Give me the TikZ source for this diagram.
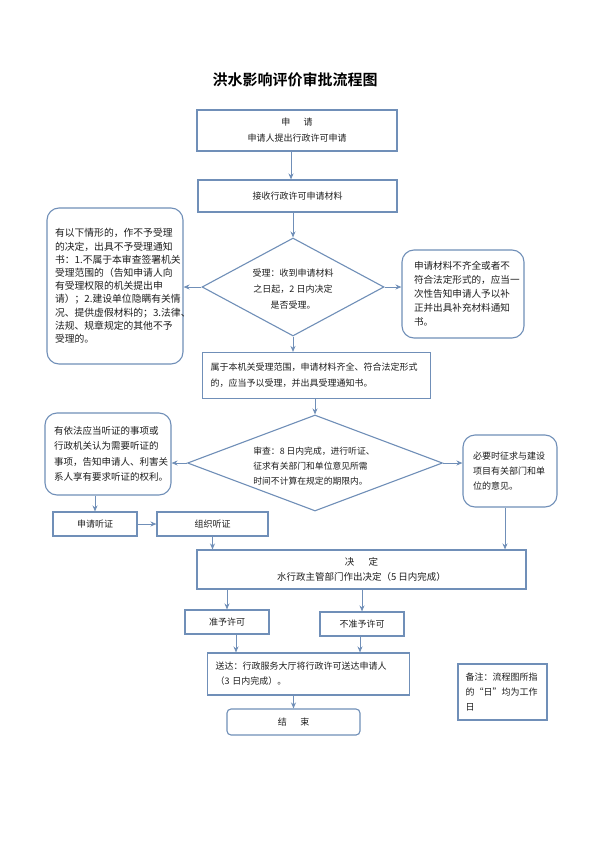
\documentclass[tikz,border=0pt]{standalone}
\usepackage{fontspec}
\setmainfont{Noto Sans CJK SC}
\newfontfamily\titlefont{Noto Sans CJK SC}[BoldFont={* Bold}]
\usetikzlibrary{shapes.geometric,arrows.meta}
\definecolor{boxblue}{RGB}{112,143,184}
\definecolor{txt}{RGB}{30,30,30}
\tikzset{
  bx/.style={draw=boxblue,line width=1.1pt,inner sep=0pt,text=txt,font=\fontsize{9}{16}\selectfont},
  rbx/.style={bx,rounded corners=12pt},
  dia/.style={draw=boxblue,line width=1.1pt,diamond,inner sep=0pt},
  tx/.style={inner sep=0pt,text=txt,font=\fontsize{9}{16}\selectfont},
  arr/.style={draw=boxblue,line width=1pt,-{Stealth[length=6pt,width=5pt]}}
}
\begin{document}
\begin{tikzpicture}[x=1pt,y=-1pt]
\useasboundingbox[fill=white] (0,0) rectangle (590,843);
% title
\node[inner sep=0pt,font=\titlefont\bfseries\fontsize{15}{18}\selectfont] (title) at (295,80) {洪水影响评价审批流程图};
% box1
\node[bx,minimum width=200pt,minimum height=41pt,align=center] (b1) at (297,130.5) {申\hspace{1.5em}请\\申请人提出行政许可申请};
% box2
\node[bx,minimum width=199pt,minimum height=32pt] (b2) at (297.5,196) {接收行政许可申请材料};
% diamond1
\node[dia,minimum width=182pt,minimum height=98pt] (d1) at (293,287) {};
\node[tx,align=center] (d1t) at (293,289) {受理：收到申请材料\\之日起，2 日内决定\\是否受理。};
% left box1
\node[rbx,minimum width=136pt,minimum height=156pt,font=\fontsize{9.8}{13.2}\selectfont,text width=120pt,align=left] (lb1) at (115,286) {有以下情形的，作不予受理\\的决定，出具不予受理通知\\书：1.不属于本审查签署机关\\受理范围的（告知申请人向\\有受理权限的机关提出申\\请）；2.建设单位隐瞒有关情\\况、提供虚假材料的；3.法律、\\法规、规章规定的其他不予\\受理的。};
% right box1
\node[rbx,minimum width=122pt,minimum height=88pt,font=\fontsize{9.6}{14}\selectfont,text width=98pt,align=left] (rb1) at (463,294) {申请材料不齐全或者不\\符合法定形式的，应当一\\次性告知申请人予以补\\正并出具补充材料通知\\书。};
% box3
\node[bx,minimum width=228pt,minimum height=46pt,text width=212pt,align=left] (b3) at (316.5,375.5) {属于本机关受理范围，申请材料齐全、符合法定形式\\的，应当予以受理，并出具受理通知书。};
% diamond2
\node[dia,minimum width=255pt,minimum height=96pt] (d2) at (315,463) {};
\node[tx,align=left,font=\fontsize{8.8}{15}\selectfont] (d2t) at (314,466) {审查：8 日内完成，进行听证、\\征求有关部门和单位意见所需\\时间不计算在规定的期限内。};
% left box2
\node[rbx,minimum width=126pt,minimum height=82pt,font=\fontsize{9.5}{15.5}\selectfont,text width=108pt,align=left] (lb2) at (108,454) {有依法应当听证的事项或\\行政机关认为需要听证的\\事项，告知申请人、利害关\\系人享有要求听证的权利。};
% right box3
\node[rbx,minimum width=94pt,minimum height=72pt,text width=74pt,align=left,font=\fontsize{9}{15}\selectfont] (rb3) at (510,471) {必要时征求与建设\\项目有关部门和单\\位的意见。};
% hearing boxes
\node[bx,minimum width=84pt,minimum height=24pt] (h1) at (95,524) {申请听证};
\node[bx,minimum width=111pt,minimum height=24pt] (h2) at (212.5,524) {组织听证};
% decision
\node[bx,minimum width=329pt,minimum height=39pt,align=center,font=\fontsize{9.5}{15}\selectfont] (dec) at (361.5,569.5) {决\hspace{1.5em}定\\水行政主管部门作出决定（5 日内完成）};
% permit boxes
\node[bx,minimum width=84pt,minimum height=24pt] (p1) at (227,622) {准予许可};
\node[bx,minimum width=84pt,minimum height=24pt] (p2) at (362,624) {不准予许可};
% send
\node[bx,minimum width=202pt,minimum height=42pt,text width=186pt,align=left,font=\fontsize{9}{15}\selectfont] (snd) at (308.5,674) {送达：行政服务大厅将行政许可送达申请人\\（3 日内完成）。};
% end
\node[bx,rounded corners=4pt,minimum width=133pt,minimum height=26pt] (end) at (293.5,722) {结\hspace{1.5em}束};
% note
\node[bx,minimum width=89pt,minimum height=56pt,text width=74pt,align=left,font=\fontsize{9}{15}\selectfont] (note) at (502.5,692) {备注：流程图所指\\的“日”均为工作\\日};
% arrows
\draw[arr] (b1.south -| 291,0) -- (b2.north -| 291,0);
\draw[arr] (b2.south -| d1.north) -- (d1.north);
\draw[arr] (d1.west) -- (lb1.east |- d1.west);
\draw[arr] (d1.east) -- (rb1.west |- d1.east);
\draw[arr] (d1.south) -- (b3.north -| d1.south);
\draw[arr] (b3.south -| d2.north) -- (d2.north);
\draw[arr] (d2.west) -- (lb2.east |- d2.west);
\draw[arr] (d2.east) -- (rb3.west |- d2.east);
\draw[arr] (lb2.south -| h1.north) -- (h1.north);
\draw[arr] (h1.east) -- (h2.west);
\draw[arr] (h2.south) -- (dec.north -| h2.south);
\draw[arr] (rb3.south -| 505,0) -- (dec.north -| 505,0);
\draw[arr] (dec.south -| p1.north) -- (p1.north);
\draw[arr] (dec.south -| p2.north) -- (p2.north);
\draw[arr] (p1.south -| 236,0) -- (snd.north -| 236,0);
\draw[arr] (p2.south -| 360,0) -- (snd.north -| 360,0);
\draw[arr] (snd.south -| end.north) -- (end.north);
\end{tikzpicture}
\end{document}
